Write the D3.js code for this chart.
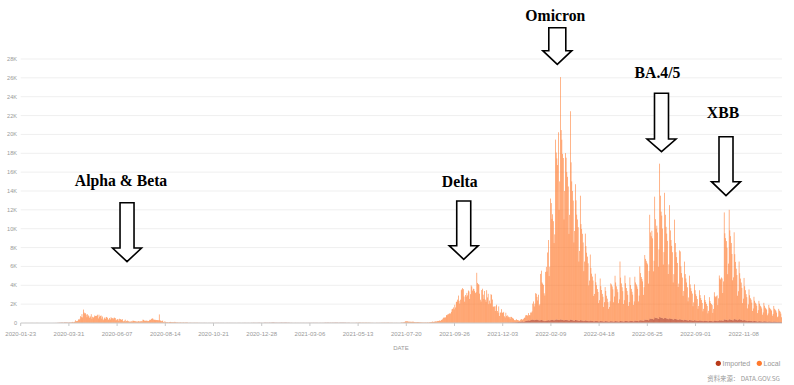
<!DOCTYPE html>
<html lang="en">
<head>
<meta charset="UTF-8">
<title>Daily COVID-19 cases, Singapore</title>
<script src="https://cdn.jsdelivr.net/npm/d3@7"></script>
<style>
  body { margin: 0; background: #fff; }
  svg { display: block; }
  .axis-text { font-family: "Liberation Sans", Arial, sans-serif; fill: #999; }
  .note { font-family: "Liberation Serif", "Times New Roman", serif; font-weight: bold; font-size: 15.7px; fill: #000; }
</style>
</head>
<body>
<div id="chart"></div>
<script>
// ---- data ----
const startDate = "2020-01-23";
const seriesNames = ["Imported", "Local"];
const xTickLabels = ["2020-01-23", "2020-03-31", "2020-06-07", "2020-08-14", "2020-10-21", "2020-12-28",
  "2021-03-06", "2021-05-13", "2021-07-20", "2021-09-26", "2021-12-03", "2022-02-09",
  "2022-04-18", "2022-06-25", "2022-09-01", "2022-11-08"];
const yTicks = [0, 2000, 4000, 6000, 8000, 10000, 12000, 14000, 16000, 18000, 20000, 22000, 24000, 26000, 28000];
const notes = ["Alpha & Beta", "Delta", "Omicron", "BA.4/5", "XBB"];

// daily counts from 2020-01-23, one line per month
const local2020 = [
  0,0,0,0,0,0,0,0,0,
  2,3,1,2,4,3,5,7,3,2, 2,1,3,9,9,3,2,1,3,2, 3,3,2,1,2,0,3,3,2,
  2,2,2,1,2,2,2,3,3,4, 2,4,6,6,7,9,8,12,15,10, 11,18,12,17,20,23,22,27,29,16,22,
  54,40,55,65,110,60,100,135,280,195, 185,230,380,330,440,720,620,940,590,1420, 1110,1015,1035,895,615,930,795,690,525,690,
  932,447,657,573,632,788,741,768,753,876, 486,884,675,752,793,465,682,305,451,570, 448,614,642,548,344,383,533,373,611,506,518,
  408,544,569,517,261,347,407,386,218,451, 422,347,347,407,214,151,247,354,142,218, 262,169,191,142,152,135,180,163,264,213,
  215,185,183,157,126,194,183,164,158,184, 191,172,347,322,245,248,223,245,236,187, 214,281,351,322,428,481,469,359,331,354,307,
  313,307,306,292,908,295,242,188,236,242, 102,42,188,93,84,55,86,50,94,91, 116,87,58,85,81,56,123,77,45,72,52,
  35,45,35,55,30,25,35,45,35,20, 40,40,40,38,8,18,12,22,12,12, 12,10,15,15,10,20,10,22,8,10,
  2,1,0,1,0,1,0,0,0,0, 0,1,0,0,1,0,0,0,1,0, 1,0,0,0,0,0,0,0,0,0,0,
  0,0,1,0,0,0,0,0,0,0, 0,0,0,0,0,0,0,0,0,0, 0,0,0,0,0,1,0,0,0,0,
  0,0,0,0,0,0,0,0,0,0, 0,0,0,0,0,0,0,0,0,0, 0,0,0,0,0,0,0,0,0,0,0
];
const imported2020 = [
  1,2,0,1,1,2,3,3,3,
  0,1,1,0,0,0,0,0,0,0, 0,0,0,0,0,0,0,0,0,0, 0,0,0,1,0,0,0,0,0,
  0,0,0,0,1,1,1,1,2,1, 1,5,3,7,10,14,15,24,15,30, 21,30,11,32,29,29,30,27,13,19,13,
  20,9,10,10,10,6,6,7,7,3, 6,3,6,4,7,8,3,2,6,6, 1,1,2,2,3,1,4,0,3,0,
  0,0,0,0,0,0,0,0,0,0, 0,0,0,0,0,0,0,0,0,0, 0,0,0,0,0,0,0,0,0,0,0,
  0,0,0,0,0,0,0,0,0,0, 0,0,0,0,0,0,0,0,0,0, 1,2,1,0,3,1,5,2,1,2,
  3,2,4,2,2,3,5,3,2,4, 2,3,6,4,5,3,4,3,2,4, 3,2,3,4,3,2,4,5,3,4,2,
  3,2,2,1,2,3,1,2,1,2, 2,1,2,3,1,2,3,1,2,2, 3,1,2,1,2,2,1,3,2,1,2,
  5,4,5,5,7,5,7,5,8,4, 6,7,6,7,3,5,6,7,6,6, 5,5,6,6,5,7,4,6,5,4,
  10,7,11,7,7,11,5,13,5,11, 5,3,8,5,9,9,6,4,12,8, 10,4,7,10,9,7,12,9,6,5,13,
  8,5,12,6,5,5,4,9,9,10, 4,10,5,9,7,8,5,5,7,6, 7,4,4,10,8,9,7,7,3,6,
  9,7,10,9,9,7,6,9,10,5, 7,6,16,7,14,20,13,15,12,11, 14,13,19,18,20,11,16,10,9,13,16
];
const local2021 = [
  0,0,1,0,0,0,1,0,0,2, 0,0,1,0,0,0,0,0,0,1, 0,0,0,0,1,3,0,0,3,2,0,
  0,0,0,0,0,0,0,0,0,0, 0,0,0,0,0,0,0,1,0,0, 0,0,0,0,0,0,0,0,
  0,0,0,0,0,0,0,0,0,0, 0,0,0,0,0,0,0,0,0,0, 0,0,0,0,0,0,0,0,0,0,0,
  0,0,0,0,0,0,0,1,0,0, 0,0,0,0,0,0,0,0,0,0, 2,3,0,1,2,0,6,4,3,6,
  6,8,10,11,3,10,3,6,17,18, 9,11,19,27,22,32,20,18,31,28, 23,15,27,23,19,14,19,8,18,19,7,
  16,16,8,2,4,7,9,14,12,6, 9,11,17,15,20,24,18,19,27,19, 16,20,27,22,27,13,14,16,16,19,
  3,5,8,7,6,9,5,4,8,8, 11,19,56,42,52,67,88,163,172,182, 179,162,130,140,120,136,117,125,135,120,100,
  90,78,85,90,97,80,77,63,64,55, 45,49,45,39,55,42,35,60,55,45, 63,79,92,100,124,154,102,129,140,170,160,
  180,210,205,250,235,230,325,325,445,560, 545,600,580,830,800,900,930,1000,1005,1005, 1170,1450,1495,1640,1435,1930,1640,2230,2260,2470,
  2900,2350,2050,2465,3475,3565,3690,3580,2800,2255, 2965,2790,3180,2920,3435,3340,2545,3050,3985,3855, 3430,3630,3590,3375,3165,3270,5315,4240,4115,4050,3105,
  2460,2265,3485,3625,2995,2545,3385,2460,2240,3470, 2700,3085,1990,2370,2060,3045,2965,2475,1725,1725, 1750,1265,1770,1925,1265,1080,1750,740,1090,1090,
  1450,1080,1040,1150,690,560,1060,720,780,560, 650,580,410,600,590,500,440,380,250,185, 250,310,230,210,160,120,160,220,260,200,170
];
const imported2021 = [
  30,26,17,23,19,17,25,26,21,26, 27,37,40,25,29,22,24,19,22,16, 24,19,25,28,31,22,25,19,28,32,27,
  26,20,23,21,18,13,13,14,10,6, 10,9,15,8,8,12,9,10,9,10, 13,8,10,13,12,10,8,8,
  11,9,12,10,14,13,11,15,12,15, 17,13,17,10,16,15,11,8,13,16, 12,11,12,15,13,19,20,30,20,27,24,
  27,17,25,25,20,23,26,22,24,23, 33,28,29,27,17,19,28,26,28,31, 22,28,25,22,24,16,12,14,20,17,
  7,3,5,3,9,6,9,4,8,11, 8,7,10,15,8,6,2,4,3,5, 4,5,6,7,9,6,10,7,8,4,3,
  2,2,3,2,3,1,3,5,3,4, 2,5,2,3,4,2,5,1,4,3, 7,3,4,6,3,2,4,4,3,4,
  5,5,6,4,5,6,7,4,4,3, 6,3,4,4,5,6,3,6,4,3, 2,3,2,3,4,3,5,6,3,4,3,
  4,4,5,5,4,6,4,5,4,5, 6,3,3,4,5,4,8,5,4,3, 4,2,1,4,3,3,3,5,4,3,2,
  7,6,7,9,6,5,6,7,6,6, 5,6,9,7,7,9,5,7,6,7, 8,7,9,10,8,9,7,6,8,8,
  9,6,7,10,11,12,13,10,9,8, 11,9,10,12,10,8,8,8,9,7, 9,7,8,8,9,7,9,8,10,11,7,
  10,8,11,10,8,8,12,10,11,11, 13,14,10,9,9,13,13,14,9,9, 11,10,12,14,10,10,11,7,13,13,
  20,20,22,29,27,31,29,34,27,33, 39,37,41,50,55,55,55,61,64,67, 77,84,83,99,108,98,120,144,161,168,174
];
const local2022 = [
  330,400,390,610,620,560,520,770,580,560, 810,790,880,1690,1960,1450,1740,2820,2740,2420, 2060,2700,1590,1730,4910,5230,4000,3880,3780,2920,2710,
  5200,5700,5200,7200,8500,4700,5700,12900,12400,10700, 11200,10500,8200,9100,19100,17700,17100,16400,19900,11700, 14700,25700,20100,19100,17600,17200,10700,13700,
  17700,17200,15700,15200,14200,9200,11200,22100,16700,14700, 13700,12700,8300,9500,14400,12700,11200,10700,9900,6300, 7400,13200,10200,9700,9200,8300,5300,6300,9200,7900,7200,
  6800,6100,3800,4300,7000,5600,5000,4700,4300,2700, 2900,5000,4100,3800,3400,3100,1950,2250,4500,3700, 3300,2900,2600,1550,2050,3600,3200,2700,2400,2050,
  1360,1550,2120,4000,3900,3700,3400,2050,2650,4800, 4100,3700,3400,3100,1950,2350,6300,4600,4000,3600, 3200,1850,2250,4800,4000,3500,3200,2800,1650,2050,4600,
  3800,3400,3100,2800,1750,2100,4650,4050,3850,3650, 3400,2100,2700,5700,5000,4600,4400,4150,2750,3550, 6850,6450,6250,6050,5900,3900,5200,11000,9150,8750,
  9350,8550,5100,6200,12800,10450,9450,9800,9100,5550, 7350,16250,12900,11250,10850,9500,5750,7050,13250,10950, 9700,9000,8250,4800,5800,12000,9350,8350,7750,7100,3950,
  4800,10500,8050,7100,6600,6000,3500,3850,7300,7200, 5650,4950,4500,2600,3100,6150,4850,4400,4000,3500, 2050,2450,4700,3800,3400,3100,2850,1550,1950,3800,3200,
  2800,2600,2300,1300,1600,3200,2700,2400,2200,1900, 1050,1300,2700,2200,2000,1800,1600,850,1100,2500, 2100,1900,1800,1700,900,1300,3000,2600,2500,2600,
  2700,1700,2400,4750,4450,4350,4550,4450,2950,4150, 11350,9150,8650,8350,7650,4900,6000,11600,9450,8850, 8150,7000,4250,4550,9200,6900,6100,5400,4750,2600,3050,
  6100,4900,4350,3950,3400,1850,2300,4450,3600,3200, 2800,2500,1350,1750,3300,2700,2400,2250,1950,1100, 1350,2550,2150,1950,1850,1650,900,1200,2150,1850,
  1650,1550,1380,750,980,1950,1650,1450,1350,1270, 700,880,1750,1460,1360,1270,1180,660,840,1650, 1360,1270,1170,980,520,600,1360,1170,1080,880,520
];
const imported2022 = [
  120,150,180,200,220,250,260,280,260,250, 300,320,350,360,330,300,310,340,360,350, 330,300,280,270,300,320,300,280,260,230,200,
  220,250,260,280,300,280,260,300,320,340, 330,300,280,300,350,380,360,350,330,300, 320,380,360,340,330,300,280,300,
  320,330,310,300,280,250,270,360,340,320, 300,280,240,260,320,310,290,280,260,220, 240,300,290,270,260,240,200,220,280,260,250,
  240,230,190,200,260,240,230,220,200,170, 180,230,220,210,200,190,160,170,220,210, 200,190,180,150,160,210,200,190,180,170,
  140,150,180,200,190,180,170,150,160,210, 200,190,180,170,150,160,220,210,200,190, 180,160,170,230,220,210,200,190,170,180,240,
  230,220,210,200,170,190,260,250,240,230, 220,190,210,300,290,280,270,260,230,250, 360,350,340,330,320,280,310,480,460,450,
  440,430,380,400,600,560,540,520,500,430, 460,650,600,560,540,520,450,470,560,530, 500,480,460,400,420,500,470,450,430,410,350,
  380,460,430,410,390,370,320,330,400,390, 360,340,320,280,290,360,340,320,300,290, 250,260,320,300,290,280,270,230,240,300,280,
  260,250,240,200,210,270,260,250,240,230, 190,200,250,240,230,220,210,180,190,240, 230,220,210,200,170,190,260,250,240,230,
  230,200,220,290,280,270,280,270,230,260, 380,360,350,340,320,280,300,400,380,360, 340,320,280,290,420,400,380,360,340,290,320,
  420,380,360,340,320,260,280,330,300,280, 260,240,200,220,260,240,230,220,210,180, 190,230,210,200,190,180,150,160,200,190,
  180,170,160,130,140,190,180,170,160,150, 120,130,170,160,150,140,130,110,120,160, 150,140,130,120,100,100,140,130,120,110,90
];

// ---- layout ----
const width = 794, height = 385;
const colors = { Imported: "#b83a19", Local: "#ff7a2e" };

const parse = d3.timeParse("%Y-%m-%d");
const start = parse(startDate);
const local = local2020.concat(local2021, local2022);
const imported = imported2020.concat(imported2021, imported2022);
const n = Math.min(local.length, imported.length);

const rows = d3.range(n).map(i => ({
  date: d3.timeDay.offset(start, i),
  Imported: imported[i],
  Local: local[i]
}));

const svg = d3.select("#chart").append("svg")
  .attr("width", width)
  .attr("height", height);

const x = d3.scaleTime()
  .domain([start, d3.timeDay.offset(start, 1074)])
  .range([20.7, 782]);

const y = d3.scaleLinear()
  .domain([0, 28000])
  .range([323, 59]);

// grid + y labels
const yAxis = svg.append("g");
yAxis.selectAll("line")
  .data(yTicks.filter(d => d > 0))
  .enter().append("line")
  .attr("x1", 20.7).attr("x2", 782)
  .attr("y1", d => y(d)).attr("y2", d => y(d))
  .attr("stroke", "#efefef")
  .attr("stroke-width", 1);
yAxis.selectAll("text")
  .data(yTicks)
  .enter().append("text")
  .attr("class", "axis-text")
  .attr("x", 17)
  .attr("y", d => y(d))
  .attr("dy", "0.35em")
  .attr("text-anchor", "end")
  .attr("font-size", "5.6px")
  .text(d => d === 0 ? "0" : (d / 1000) + "K");

// stacked bars
const stack = d3.stack().keys(seriesNames);
const layers = stack(rows);
const step = x(d3.timeDay.offset(start, 1)) - x(start);

svg.append("g").selectAll("g")
  .data(layers)
  .enter().append("g")
  .attr("fill", d => colors[d.key])
  .attr("fill-opacity", d => d.key === "Local" ? 0.88 : 1)
  .selectAll("rect")
  .data(d => d.filter(p => p[1] - p[0] > 0))
  .enter().append("rect")
  .attr("x", p => x(p.data.date))
  .attr("width", step * 0.9)
  .attr("y", p => y(p[1]))
  .attr("height", p => y(p[0]) - y(p[1]));

// x axis
const xAxis = svg.append("g").attr("transform", "translate(0,323)");
xAxis.append("line")
  .attr("x1", 20.7).attr("x2", 782)
  .attr("stroke", "#c8c8c8");
const xt = xAxis.selectAll(".xt")
  .data(xTickLabels)
  .enter().append("g")
  .attr("transform", d => `translate(${x(parse(d))},0)`);
xt.append("line").attr("y2", 3).attr("stroke", "#c8c8c8");
xt.append("text")
  .attr("class", "axis-text")
  .attr("y", 12.5)
  .attr("text-anchor", "middle")
  .attr("font-size", "6px")
  .text(d => d);

svg.append("text")
  .attr("class", "axis-text")
  .attr("x", 401)
  .attr("y", 349.5)
  .attr("text-anchor", "middle")
  .attr("font-size", "6px")
  .attr("fill", "#888")
  .text("DATE");

// legend
const legend = svg.append("g").attr("transform", "translate(0,363.3)");
const legendPos = [718.3, 759.3];
seriesNames.forEach((name, i) => {
  legend.append("circle")
    .attr("cx", legendPos[i]).attr("cy", 0).attr("r", 2.6)
    .attr("fill", colors[name]);
  legend.append("text")
    .attr("class", "axis-text")
    .attr("x", legendPos[i] + 4.2)
    .attr("y", 0)
    .attr("dy", "0.35em")
    .attr("font-size", "7px")
    .attr("fill", "#888")
    .text(name);
});

svg.append("text")
  .attr("x", 780)
  .attr("y", 381)
  .attr("text-anchor", "end")
  .attr("font-family", "'Noto Sans CJK SC', 'Liberation Sans', sans-serif")
  .attr("font-size", "6.4px")
  .attr("fill", "#999")
  .text("资料来源： DATA.GOV.SG");

// annotations: arrow centre follows the date on the x scale
const arrowSpec = [
  { date: "2020-06-21", dx: -6, textY: 186, top: 202.7, head: 248, tip: 261.7, shaft: 14 },
  { date: "2021-10-09", dx: -4, textY: 187, top: 201, head: 245.7, tip: 259.3, shaft: 14 },
  { date: "2022-02-18", dx: -2, textY: 20.5, top: 27.7, head: 50.7, tip: 64.3, shaft: 17 },
  { date: "2022-07-15", dx: -4, textY: 78, top: 93.3, head: 139, tip: 151.7, shaft: 14 },
  { date: "2022-10-14", dx: -3, textY: 117.6, top: 136.7, head: 181.7, tip: 195.7, shaft: 14 }
];
const ann = svg.append("g");
arrowSpec.forEach((a, i) => {
  const cx = x(parse(a.date));
  const s = a.shaft / 2, h = 14.5;
  const pts = [
    [cx - s, a.top], [cx + s, a.top], [cx + s, a.head], [cx + h, a.head],
    [cx, a.tip], [cx - h, a.head], [cx - s, a.head]
  ];
  ann.append("path")
    .attr("d", d3.line()(pts) + "Z")
    .attr("fill", "#fff")
    .attr("stroke", "#000")
    .attr("stroke-width", 1.6)
    .attr("stroke-linejoin", "miter");
  ann.append("text")
    .attr("class", "note")
    .attr("x", cx + a.dx)
    .attr("y", a.textY)
    .attr("text-anchor", "middle")
    .text(notes[i]);
});
</script>
</body>
</html>
